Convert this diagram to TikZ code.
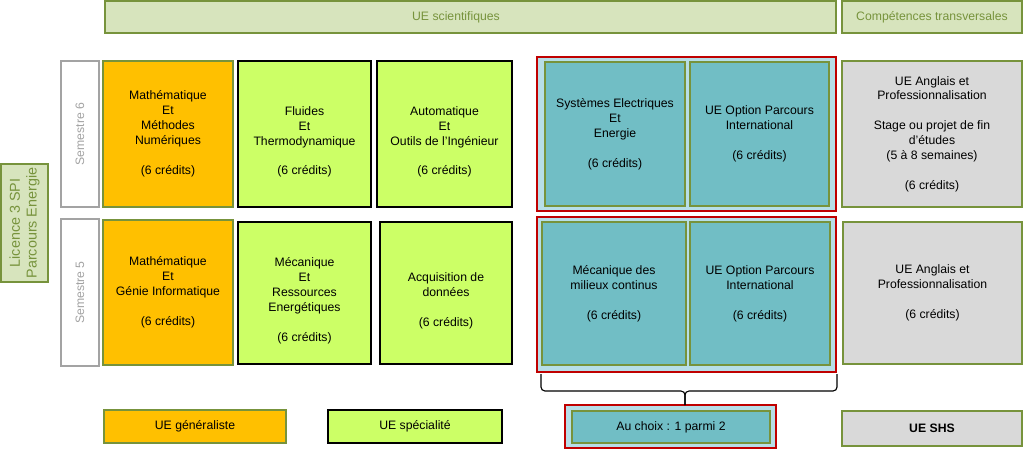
\documentclass[tikz,border=0pt]{standalone}
\usepackage{fontspec}
\setmainfont{Liberation Sans}
\definecolor{hdrfill}{HTML}{D7E4BD}
\definecolor{uegreen}{HTML}{77933C}
\definecolor{uegen}{HTML}{FFC000}
\definecolor{uespec}{HTML}{CCFF66}
\definecolor{uechoix}{HTML}{71BEC5}
\definecolor{choixbg}{HTML}{B7DEE8}
\definecolor{choixred}{HTML}{C00000}
\definecolor{uetrans}{HTML}{D9D9D9}
\definecolor{semgray}{HTML}{A3A3A3}
\newcommand\haut{\rule{0pt}{17.5pt}}
\tikzset{ue/.style={draw=uegreen, line width=1.4pt, align=center, inner sep=0pt, outer sep=0pt, font=\fontsize{8.7}{10.6}\selectfont}}
\tikzset{gen/.style={ue, fill=uegen}}
\tikzset{spec/.style={ue, draw=black, fill=uespec}}
\tikzset{choix/.style={ue, fill=uechoix}}
\tikzset{trans/.style={ue, fill=uetrans}}
\tikzset{hdr/.style={ue, fill=hdrfill, text=uegreen}}
\tikzset{sem/.style={ue, draw=semgray, fill=white, text=semgray, rotate=90}}
\tikzset{groupe/.style={draw=choixred, fill=choixbg, line width=1.4pt, inner sep=0pt, outer sep=0pt}}

\begin{document}
\begin{tikzpicture}[x=0.025cm, y=-0.025cm]
\useasboundingbox (0,0) rectangle (1024,450);
% en-tetes
\node[hdr, minimum width=18.28cm, minimum height=0.8cm] (sci) at (470.5,17) {};
\node[text=uegreen, font=\fontsize{8.7}{10.6}\selectfont] (scitxt) at (456,17) {UE scientifiques};
\node[hdr, minimum width=4.5cm, minimum height=0.8cm] (transv) at (932,17) {Compétences transversales};
\node[hdr, rotate=90, minimum width=2.95cm, minimum height=1.175cm, font=\fontsize{10.2}{12}\selectfont] (licence) at (24.5,223) {Licence 3 SPI\\Parcours Energie};
\node[sem, minimum width=3.65cm, minimum height=0.95cm] (sem6) at (80,134) {Semestre 6};
\node[sem, minimum width=3.675cm, minimum height=0.95cm] (sem5) at (80,292.5) {Semestre 5};
% semestre 6
\node[gen, minimum width=3.25cm, minimum height=3.65cm] (maths6) at (168,134) {Mathématique\\Et\\Méthodes\\Numériques\\[10.6pt](6 crédits)};
\node[spec, minimum width=3.325cm, minimum height=3.65cm] (fluides) at (304.5,134) {\haut Fluides\\Et\\Thermodynamique\\[10.6pt](6 crédits)};
\node[spec, minimum width=3.375cm, minimum height=3.65cm] (auto) at (444.5,134) {\haut Automatique\\Et\\Outils de l’Ingénieur\\[10.6pt](6 crédits)};
\node[groupe, minimum width=7.475cm, minimum height=3.85cm] (choix6) at (686.5,134) {};
\node[choix, minimum width=3.5cm, minimum height=3.6cm] (elec) at (615,134) {Systèmes Electriques\\Et\\Energie\\[10.6pt](6 crédits)};
\node[choix, minimum width=3.475cm, minimum height=3.6cm] (inter6) at (759.5,134) {UE Option Parcours\\International\\[10.6pt](6 crédits)};
\node[trans, minimum width=4.5cm, minimum height=3.65cm] (pro6) at (932,134) {UE Anglais et\\Professionnalisation\\[10.6pt]Stage ou projet de fin\\d’études\\(5 à 8 semaines)\\[10.6pt](6 crédits)};
% semestre 5
\node[gen, minimum width=3.25cm, minimum height=3.625cm] (maths5) at (168,292.5) {Mathématique\\Et\\Génie Informatique\\[10.6pt](6 crédits)};
\node[spec, minimum width=3.325cm, minimum height=3.55cm] (meca) at (304.5,293) {\haut Mécanique\\Et\\Ressources\\Energétiques\\[10.6pt](6 crédits)};
\node[spec, minimum width=3.3cm, minimum height=3.55cm] (acqui) at (446,293) {\haut Acquisition de\\données\\[10.6pt](6 crédits)};
\node[groupe, minimum width=7.475cm, minimum height=3.875cm] (choix5) at (686.5,294.5) {};
\node[choix, minimum width=3.6cm, minimum height=3.575cm] (mmc) at (614,293.5) {Mécanique des\\milieux continus\\[10.6pt](6 crédits)};
\node[choix, minimum width=3.5cm, minimum height=3.575cm] (inter5) at (760,293.5) {UE Option Parcours\\International\\[10.6pt](6 crédits)};
\node[trans, minimum width=4.475cm, minimum height=3.55cm] (pro5) at (932.5,293) {UE Anglais et\\Professionnalisation\\[10.6pt](6 crédits)};
% legende
\node[gen, minimum width=4.55cm, minimum height=0.825cm] (leggen) at (195,426.5) {UE généraliste};
\node[spec, minimum width=4.35cm, minimum height=0.825cm] (legspec) at (415,426.5) {UE spécialité};
\node[groupe, minimum width=5.275cm, minimum height=1.075cm] (legchoixbg) at (670.5,426.5) {};
\node[choix, minimum width=4.95cm, minimum height=0.8cm] (legchoix) at (671,427) {Au choix : 1 parmi 2};
\node[trans, minimum width=4.5cm, minimum height=0.875cm, font=\fontsize{8.7}{10.6}\selectfont\bfseries] (legshs) at (932,428.5) {UE SHS};
% accolade
\coordinate (pointe) at (685,391);
\draw[line width=0.8pt, rounded corners=0.1cm] ([xshift=0.1cm, yshift=-0.05cm]choix5.south west) -- ([xshift=0.1cm]choix5.south west |- pointe) -- (pointe) -- (pointe |- legchoixbg.north);
\draw[line width=0.8pt, rounded corners=0.1cm] ([xshift=0.025cm, yshift=-0.05cm]choix5.south east) -- ([xshift=0.025cm]choix5.south east |- pointe) -- (pointe) -- (pointe |- legchoixbg.north);
\end{tikzpicture}
\end{document}
